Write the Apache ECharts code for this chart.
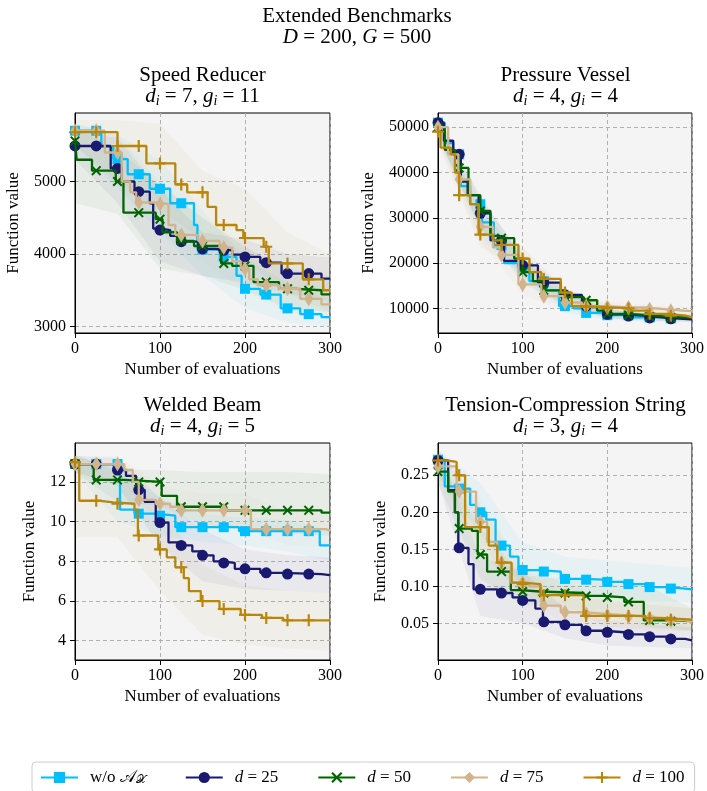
<!DOCTYPE html>
<html lang="en">
<head>
<meta charset="UTF-8">
<title>Extended Benchmarks</title>
<script src="https://cdn.jsdelivr.net/npm/echarts@6/dist/echarts.min.js"></script>
<style>
    html, body { margin: 0; padding: 0; background: #fff; }
    #chart { width: 707px; height: 791px; }
</style>
</head>
<body>
<div id="chart"></div>
<script>
    // markers are drawn every 25 evaluations, bands are given at bandX
    var markX = [0, 25, 50, 75, 100, 125, 150, 175, 200, 225, 250, 275];
    var bandX = [0, 50, 100, 150, 200, 250, 300];
    var methods = ['noAx', 'd25', 'd50', 'd75', 'd100'];

    // Speed Reducer: [evaluation, best value] at each improvement
    var srNoAx = [[0,5700],[31,5480],[45,5310],[62,5100],[88,4900],[112,4700],[140,4400],[144,4060],[172,3960],[190,3700],[196,3520],[218,3440],[242,3250],[265,3170],[290,3130]];
    var srD25 = [[0,5490],[42,5180],[55,5000],[70,4860],[88,4700],[92,4350],[100,4330],[112,4250],[122,4170],[145,4070],[165,4050],[185,3990],[198,3960],[218,3880],[243,3730],[290,3660]];
    var srD50 = [[0,5560],[2,5300],[20,5150],[48,5000],[57,4570],[95,4480],[103,4300],[120,4180],[140,4110],[172,3870],[185,3835],[210,3613],[240,3520],[260,3500],[290,3442]];
    var srD75 = [[0,5700],[35,5400],[55,5000],[65,4850],[72,4710],[100,4687],[110,4400],[118,4263],[145,4180],[170,4088],[185,3900],[195,3797],[205,3650],[215,3570],[240,3520],[265,3382],[290,3304]];
    var srD100 = [[0,5680],[50,5490],[84,5250],[118,4960],[132,4850],[156,4650],[166,4400],[190,4330],[198,4220],[222,4100],[228,3870],[268,3650],[292,3500]];
    // spread bands [low, high] at bandX
    var srNoAxBand = [[5500,5800],[4900,5650],[4300,5300],[3700,4600],[3250,3950],[3050,3600],[3000,3350]];
    var srD25Band = [[5300,5700],[4700,5600],[3900,4900],[3700,4300],[3600,4200],[3450,4000],[3350,3950]];
    var srD50Band = [[4700,5750],[4550,5450],[3800,4950],[3700,4500],[3500,4100],[3250,3800],[3200,3700]];
    var srD75Band = [[5500,5800],[4950,5650],[4300,5000],[3900,4500],[3500,4100],[3200,3750],[3100,3550]];
    var srD100Band = [[5500,5850],[5000,5850],[4600,5800],[4200,5150],[3900,4900],[3450,4300],[3200,4000]];

    // Pressure Vessel
    var pvNoAx = [[0,51000],[8,46500],[18,44000],[27,37000],[38,33000],[52,29000],[66,24000],[78,20000],[96,19000],[108,16000],[128,14000],[143,10500],[160,10000],[175,9000],[195,8500],[228,8000],[265,7800]];
    var pvD25 = [[0,51000],[7,47000],[18,44000],[27,38000],[35,35000],[48,31000],[62,25000],[78,20500],[98,19500],[118,15700],[145,13000],[170,10500],[195,8700],[220,8300],[250,7900],[270,7700],[290,7600]];
    var pvD50 = [[0,50000],[8,45000],[20,44000],[25,41000],[36,35000],[50,31500],[62,26000],[73,25500],[90,21000],[100,18000],[112,16000],[125,14000],[148,12500],[172,11800],[188,9500],[200,8800],[225,8500],[248,8200],[270,8000],[290,7900]];
    var pvD75 = [[0,50000],[12,44000],[24,38500],[38,33000],[48,28000],[65,23500],[73,21800],[95,15300],[122,12700],[148,11300],[170,10500],[195,10300],[222,10200],[245,9800],[270,9500],[290,9400]];
    var pvD100 = [[0,49000],[3,45500],[15,44000],[20,40000],[25,35000],[38,33000],[48,26300],[65,25000],[75,24000],[95,21000],[108,18000],[122,16500],[145,13500],[158,10500],[175,10300],[198,10000],[228,9500],[248,8800],[272,8400],[292,8000]];
    var pvNoAxBand = [[48000,53000],[26000,32000],[16500,21500],[9000,12000],[7500,9500],[7000,8800],[7000,8600]];
    var pvD25Band = [[48000,53000],[27500,34000],[17000,22000],[10500,14500],[7800,9800],[7200,8800],[7000,8400]];
    var pvD50Band = [[47500,52500],[28000,35000],[15500,21000],[10500,14000],[7800,9800],[7400,9000],[7200,8700]];
    var pvD75Band = [[47000,52500],[25000,31000],[13000,17500],[9500,12500],[9000,11500],[8600,10800],[8500,10300]];
    var pvD100Band = [[46500,51500],[23500,29000],[18500,23500],[11000,14500],[9000,11000],[7800,9800],[7300,8800]];

    // Welded Beam
    var wbNoAx = [[0,12.9],[53,10.6],[70,10.4],[95,10.3],[118,9.72],[193,9.52],[288,8.8]];
    var wbD25 = [[0,12.9],[48,12.6],[60,12.3],[72,11.6],[82,11.0],[95,9.95],[110,8.95],[122,8.8],[138,8.5],[148,8.3],[163,8.0],[172,7.92],[188,7.62],[218,7.42],[245,7.36],[290,7.3]];
    var wbD50 = [[0,12.9],[22,12.1],[58,12.0],[102,11.3],[120,10.75],[178,10.57],[290,10.45]];
    var wbD75 = [[0,12.9],[58,12.6],[68,12.0],[75,11.1],[95,10.9],[112,10.75],[122,10.57],[207,9.62],[295,9.55]];
    var wbD100 = [[0,13.0],[5,11.05],[30,10.97],[45,10.9],[70,10.6],[74,9.3],[98,8.6],[108,8.2],[118,7.7],[128,7.15],[134,6.5],[148,6.0],[170,5.6],[195,5.3],[220,5.15],[245,5.03]];
    var wbNoAxBand = [[12.5,13.3],[10.0,12.8],[9.3,11.2],[9.0,10.4],[8.8,10.2],[8.5,10.1],[8.0,9.6]];
    var wbD25Band = [[12.5,13.3],[11.8,13.2],[8.8,11.2],[7.0,9.6],[6.6,8.6],[6.5,8.3],[6.4,8.2]];
    var wbD50Band = [[12.5,13.3],[11.0,12.6],[10.8,12.6],[9.8,12.5],[9.6,12.5],[9.4,12.5],[9.3,12.4]];
    var wbD75Band = [[12.5,13.3],[12.0,13.3],[10.0,11.8],[9.7,11.4],[9.7,11.4],[8.8,10.5],[8.7,10.4]];
    var wbD100Band = [[9.2,13.4],[9.2,12.5],[6.5,10.7],[4.3,7.8],[3.8,6.8],[3.6,6.5],[3.5,6.4]];

    // Tension-Compression String
    var tcNoAx = [[0,0.271],[8,0.235],[25,0.232],[38,0.21],[45,0.2],[57,0.19],[68,0.155],[85,0.14],[95,0.122],[120,0.12],[145,0.11],[172,0.109],[195,0.106],[220,0.103],[245,0.099],[270,0.097],[292,0.096]];
    var tcD25 = [[0,0.27],[12,0.23],[20,0.2],[24,0.152],[36,0.13],[42,0.096],[70,0.091],[88,0.085],[98,0.081],[115,0.07],[124,0.052],[145,0.048],[170,0.04],[195,0.038],[220,0.035],[245,0.032],[270,0.029],[292,0.027]];
    var tcD50 = [[0,0.255],[12,0.228],[20,0.2],[24,0.178],[40,0.175],[47,0.143],[58,0.12],[86,0.095],[98,0.093],[120,0.091],[172,0.087],[195,0.085],[220,0.079],[243,0.054],[270,0.053]];
    var tcD75 = [[0,0.262],[22,0.228],[45,0.187],[58,0.16],[70,0.132],[86,0.105],[108,0.1],[122,0.074],[145,0.065],[170,0.063],[195,0.061],[220,0.059],[245,0.057],[270,0.054],[292,0.052]];
    var tcD100 = [[0,0.27],[10,0.268],[22,0.25],[32,0.18],[60,0.155],[70,0.132],[87,0.105],[100,0.103],[121,0.088],[172,0.06],[245,0.057],[270,0.055]];
    var tcNoAxBand = [[0.25,0.285],[0.17,0.24],[0.10,0.16],[0.09,0.14],[0.085,0.135],[0.08,0.13],[0.078,0.125]];
    var tcD25Band = [[0.24,0.285],[0.06,0.14],[0.05,0.12],[0.03,0.07],[0.02,0.055],[0.018,0.048],[0.016,0.045]];
    var tcD50Band = [[0.24,0.275],[0.11,0.18],[0.075,0.115],[0.07,0.11],[0.06,0.105],[0.045,0.1],[0.04,0.07]];
    var tcD75Band = [[0.24,0.285],[0.16,0.22],[0.085,0.125],[0.05,0.085],[0.045,0.08],[0.04,0.075],[0.04,0.07]];
    var tcD100Band = [[0.25,0.285],[0.15,0.21],[0.085,0.125],[0.07,0.105],[0.045,0.08],[0.042,0.075],[0.04,0.07]];

    var font = '"Liberation Serif", "DejaVu Serif", serif';
    var colors = ['#00bfff', '#191970', '#006400', '#d2b48c', '#b8860b'];
    var crossPath = 'path://M0,1.4L1.4,0L5,3.6L8.6,0L10,1.4L6.4,5L10,8.6L8.6,10L5,6.4L1.4,10L0,8.6L3.6,5Z';
    var plusPath = 'path://M4.1,0H5.9V4.1H10V5.9H5.9V10H4.1V5.9H0V4.1H4.1Z';
    var symbols = ['rect', 'circle', crossPath, 'diamond', plusPath];
    var symbolSizes = [10, 11, 10, [9, 15], 12];

    var panels = [
        { title: 'Speed Reducer', sub: '{i|d}{s|i}{n| = 7, }{i|g}{s|i}{n| = 11}', min: 2910, max: 5945,
          ticks: [3000, 4000, 5000], box: [75, 113, 255, 220], nameGap: 53,
          curves: [srNoAx, srD25, srD50, srD75, srD100],
          bands: [srNoAxBand, srD25Band, srD50Band, srD75Band, srD100Band] },
        { title: 'Pressure Vessel', sub: '{i|d}{s|i}{n| = 4, }{i|g}{s|i}{n| = 4}', min: 4570, max: 53130,
          ticks: [10000, 20000, 30000, 40000, 50000], box: [438, 113, 255, 220], nameGap: 61,
          curves: [pvNoAx, pvD25, pvD50, pvD75, pvD100],
          bands: [pvNoAxBand, pvD25Band, pvD50Band, pvD75Band, pvD100Band] },
        { title: 'Welded Beam', sub: '{i|d}{s|i}{n| = 4, }{i|g}{s|i}{n| = 5}', min: 3.03, max: 13.96,
          ticks: [4, 6, 8, 10, 12], box: [75, 443, 255, 217], nameGap: 37,
          curves: [wbNoAx, wbD25, wbD50, wbD75, wbD100],
          bands: [wbNoAxBand, wbD25Band, wbD50Band, wbD75Band, wbD100Band] },
        { title: 'Tension-Compression String', sub: '{i|d}{s|i}{n| = 3, }{i|g}{s|i}{n| = 4}', min: 0.0005, max: 0.2936,
          ticks: [0.05, 0.10, 0.15, 0.20, 0.25], box: [438, 443, 255, 217], nameGap: 49,
          curves: [tcNoAx, tcD25, tcD50, tcD75, tcD100],
          bands: [tcNoAxBand, tcD25Band, tcD50Band, tcD75Band, tcD100Band] }
    ];

    function valueAt(steps, x) {
        var v = steps[0][1];
        for (var k = 0; k < steps.length; k++) {
            if (steps[k][0] <= x) v = steps[k][1];
        }
        return v;
    }

    var titleRich = {
        n: { fontFamily: font, fontSize: 21, fill: '#000', lineHeight: 24 },
        i: { fontFamily: font, fontSize: 21, fontStyle: 'italic', fill: '#000', lineHeight: 24 },
        s: { fontFamily: font, fontSize: 14, fontStyle: 'italic', fill: '#000', lineHeight: 14, verticalAlign: 'bottom' }
    };

    var grids = [], xAxes = [], yAxes = [], series = [], graphics = [];

    graphics.push({ type: 'text', x: 357, y: 16, style: { text: 'Extended Benchmarks', fontFamily: font, fontSize: 21, fill: '#000', align: 'center', verticalAlign: 'middle' } });
    graphics.push({ type: 'text', x: 357, y: 37, style: { text: '{i|D}{n| = 200, }{i|G}{n| = 500}', rich: titleRich, align: 'center', verticalAlign: 'middle' } });

    panels.forEach(function (p, i) {
        var left = p.box[0], top = p.box[1], w = p.box[2], h = p.box[3];
        grids.push({ left: left, top: top, width: w, height: h, show: true, backgroundColor: '#f4f4f4', borderColor: '#000', borderWidth: 1 });

        graphics.push({ type: 'text', x: left + w / 2, y: top - 38, style: { text: p.title, fontFamily: font, fontSize: 21, fill: '#000', align: 'center', verticalAlign: 'middle' } });
        graphics.push({ type: 'text', x: left + w / 2, y: top - 17, style: { text: p.sub, rich: titleRich, align: 'center', verticalAlign: 'middle' } });

        xAxes.push({
            gridIndex: i, type: 'value', min: 0, max: 300, interval: 100,
            name: 'Number of evaluations', nameLocation: 'middle', nameGap: 28,
            nameTextStyle: { fontFamily: font, fontSize: 17, color: '#000' },
            axisLine: { onZero: false, lineStyle: { color: '#000', width: 1 } },
            axisTick: { show: true, length: 5, lineStyle: { color: '#000' } },
            axisLabel: { margin: 8, fontFamily: font, fontSize: 16, color: '#000', showMaxLabel: true, showMinLabel: true },
            splitLine: { show: true, lineStyle: { color: '#b0b0b0', type: [4, 3], width: 1 } }
        });
        yAxes.push({
            gridIndex: i, type: 'value', min: p.min, max: p.max,
            name: 'Function value', nameLocation: 'middle', nameGap: p.nameGap, nameRotate: 90,
            nameTextStyle: { fontFamily: font, fontSize: 17, color: '#000' },
            axisLine: { onZero: false, lineStyle: { color: '#000', width: 1 } },
            axisTick: { show: true, length: 5, lineStyle: { color: '#000' }, customValues: p.ticks },
            axisLabel: { margin: 9, fontFamily: font, fontSize: 16, color: '#000', customValues: p.ticks,
                formatter: function (v) { return p.min < 1 ? v.toFixed(2) : String(Math.round(v)); } },
            splitLine: { show: true, lineStyle: { color: '#b0b0b0', type: [4, 3], width: 1 } }
        });

        // shaded spread bands
        p.bands.forEach(function (band, s) {
            var rows = bandX.map(function (x, k) { return [x, band[k][0], band[k][1]]; });
            series.push({
                type: 'custom', xAxisIndex: i, yAxisIndex: i, silent: true, z: 1, clip: true,
                encode: { x: 0, y: [1, 2] },
                data: rows,
                renderItem: function (params, api) {
                    if (params.dataIndexInside !== 0) return;
                    var pts = [];
                    rows.forEach(function (r) { pts.push(api.coord([r[0], r[2]])); });
                    for (var k = rows.length - 1; k >= 0; k--) pts.push(api.coord([rows[k][0], rows[k][1]]));
                    return { type: 'polygon', shape: { points: pts }, style: { fill: colors[s], opacity: 0.05 } };
                }
            });
        });

        // best-so-far step curves and their markers
        p.curves.forEach(function (steps, s) {
            var last = steps[steps.length - 1][1];
            series.push({
                type: 'line', name: methods[s], xAxisIndex: i, yAxisIndex: i, step: 'end',
                data: steps.concat([[300, last]]), showSymbol: false,
                symbol: symbols[s], symbolSize: symbolSizes[s],
                lineStyle: { width: 2.3, color: colors[s] }, itemStyle: { color: colors[s] },
                z: 3 + 2 * s, silent: true
            });
            series.push({
                type: 'scatter', name: methods[s], xAxisIndex: i, yAxisIndex: i,
                data: markX.map(function (x) { return [x, valueAt(steps, x)]; }),
                symbol: symbols[s], symbolSize: symbolSizes[s],
                itemStyle: { color: colors[s], opacity: 1 },
                z: 4 + 2 * s, silent: true
            });
        });
    });

    var legendLabels = {
        noAx: '{p|w/o }{c|𝒜}{x|𝒳}',
        d25: '{i|d}{n| = 25}',
        d50: '{i|d}{n| = 50}',
        d75: '{i|d}{n| = 75}',
        d100: '{i|d}{n| = 100}'
    };

    var chart = echarts.init(document.getElementById('chart'));
    chart.setOption({
        animation: false,
        grid: grids,
        xAxis: xAxes,
        yAxis: yAxes,
        graphic: graphics,
        legend: {
            data: methods, left: 32, top: 762, selectedMode: false,
            itemWidth: 37, itemHeight: 14, itemGap: 39,
            padding: [7, 10, 7, 8], borderColor: '#cccccc', borderWidth: 1, borderRadius: 4, backgroundColor: '#fff',
            formatter: function (name) { return legendLabels[name]; },
            textStyle: {
                fontFamily: font, fontSize: 17, color: '#000',
                rich: {
                    p: { fontFamily: font, fontSize: 17, color: '#000', padding: [0, 0, 0, 7] },
                    n: { fontFamily: font, fontSize: 17, color: '#000' },
                    i: { fontFamily: font, fontSize: 17, fontStyle: 'italic', color: '#000', padding: [0, 0, 0, 7] },
                    c: { fontFamily: font, fontSize: 17, color: '#000' },
                    x: { fontFamily: font, fontSize: 12, color: '#000', verticalAlign: 'bottom', lineHeight: 12 }
                }
            }
        },
        series: series
    });
</script>
</body>
</html>
